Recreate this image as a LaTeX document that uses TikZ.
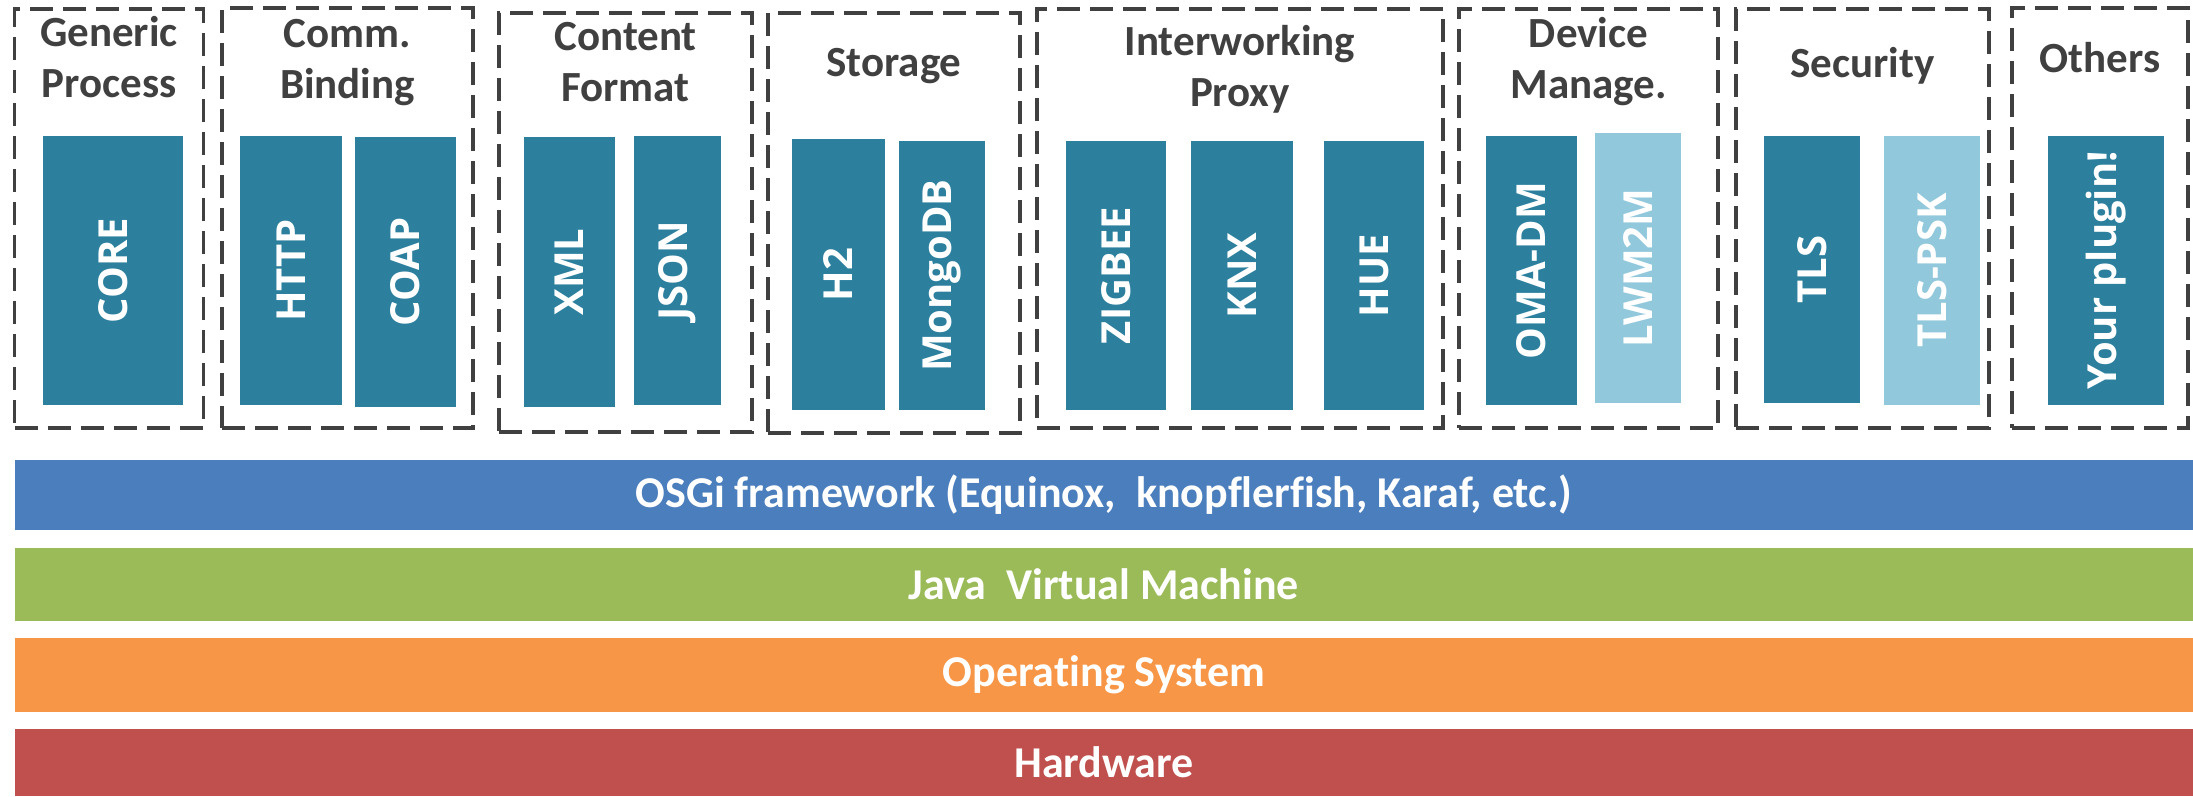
\documentclass[tikz,border=0pt]{standalone}
\usepackage{fontspec}
\setmainfont{Carlito}[Ligatures=NoCommon]
\newfontfamily\labfont{Open Sans}
\definecolor{teal}{HTML}{2C809E}
\definecolor{lteal}{HTML}{91C8DB}
\definecolor{osgiblue}{HTML}{4A7EBC}
\definecolor{jvmgreen}{HTML}{9BBB59}
\definecolor{osorange}{HTML}{F79646}
\definecolor{hwred}{HTML}{C0504D}
\definecolor{tgray}{HTML}{404040}
\tikzset{
  grp/.style={draw=tgray, line width=3.5pt, dash pattern=on 23pt off 10pt, inner sep=0pt},
  ttl/.style={text=tgray, font=\fontsize{43}{51}\selectfont\bfseries, align=center, anchor=base, inner sep=0pt},
  mod/.style={fill=teal, text=white, font=\labfont\fontsize{40}{48}\selectfont\bfseries, inner sep=0pt, rotate=90},
  lmod/.style={mod, fill=lteal},
  band/.style={text=white, font=\fontsize{44}{53}\selectfont\bfseries, inner sep=0pt, minimum width=2178pt}
}
\begin{document}
\begin{tikzpicture}[x=1pt,y=-1pt]
\useasboundingbox (0,0) rectangle (2193,796);
\fill[white] (0,0) rectangle (2193,796);
% groups
\node[grp, minimum width=189pt, minimum height=419pt] (gp) at (109,218.5) {};
\node[grp, minimum width=251pt, minimum height=420pt] (cb) at (347.5,218) {};
\node[grp, minimum width=253pt, minimum height=419pt] (cf) at (625.5,222.5) {};
\node[grp, minimum width=252pt, minimum height=420pt] (st) at (894,223) {};
\node[grp, minimum width=406pt, minimum height=419pt] (ip) at (1240,218.5) {};
\node[grp, minimum width=259pt, minimum height=419pt] (dm) at (1588.5,218.5) {};
\node[grp, minimum width=253pt, minimum height=419pt] (se) at (1862.5,218.5) {};
\node[grp, minimum width=176pt, minimum height=420pt] (ot) at (2100,218) {};
% titles (anchor = baseline of last line)
\node[ttl] (tgp) at (109,97) {Generic\\Process};
\node[ttl] (tcb) at (347.5,98) {Comm.\\Binding};
\node[ttl] (tcf) at (625.5,101) {Content\\Format};
\node[ttl] (tst) at (894,76) {Storage};
\node[ttl] (tip) at (1240,106) {Interworking\\Proxy};
\node[ttl] (tdm) at (1588.5,98) {Device\\Manage.};
\node[ttl] (tse) at (1862.5,77) {Security};
\node[ttl] (tot) at (2100,72) {Others};
% modules
\node[mod, minimum width=269pt, minimum height=140pt] (core) at (112.85,270.5) {CORE};
\node[mod, minimum width=269pt, minimum height=102pt] (http) at (291,270.5) {HTTP};
\node[mod, minimum width=270pt, minimum height=101pt] (coap) at (405.5,272) {COAP};
\node[mod, minimum width=270pt, minimum height=91.5pt] (xml) at (569.25,272) {XML};
\node[mod, minimum width=269pt, minimum height=87pt] (json) at (677.5,270.5) {JSON};
\node[mod, minimum width=271pt, minimum height=93pt] (h2) at (838.5,274.5) {H2};
\node[mod, minimum width=269pt, minimum height=86.5pt] (mongo) at (941.75,275.5) {MongoDB};
\node[mod, minimum width=269pt, minimum height=100pt] (zigbee) at (1116,275.5) {ZIGBEE};
\node[mod, minimum width=269pt, minimum height=102pt] (knx) at (1242,275.5) {KNX};
\node[mod, minimum width=269pt, minimum height=100pt] (hue) at (1374,275.5) {HUE};
\node[mod, minimum width=269pt, minimum height=91pt] (omadm) at (1531.5,270.5) {OMA-DM};
\node[lmod, minimum width=270pt, minimum height=86pt] (lwm2m) at (1638,268) {LWM2M};
\node[mod, minimum width=267pt, minimum height=96pt] (tls) at (1812,269.5) {TLS};
\node[lmod, minimum width=269pt, minimum height=96pt] (tlspsk) at (1932,270.5) {TLS-PSK};
\node[mod, minimum width=269pt, minimum height=116pt] (plugin) at (2106,270.5) {Your plugin!};
% bands
\node[band, fill=osgiblue, minimum height=70pt] (osgi) at (1104,495) {OSGi framework (Equinox,\ \ knopflerfish, Karaf, etc.)};
\node[band, fill=jvmgreen, minimum height=73pt] (jvm) at (1104,584.5) {Java\ \ Virtual Machine};
\node[band, fill=osorange, minimum height=74pt] (os) at (1104,675) {Operating System};
\node[band, fill=hwred, minimum height=67pt] (hw) at (1104,762.5) {Hardware};
\end{tikzpicture}
\end{document}
